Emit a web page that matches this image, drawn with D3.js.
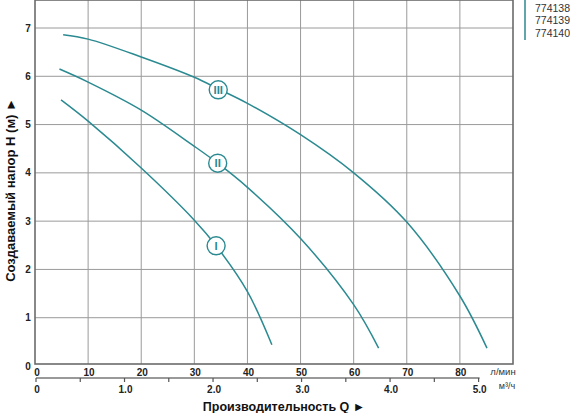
<!DOCTYPE html>
<html>
<head>
<meta charset="utf-8">
<script src="https://cdn.jsdelivr.net/npm/d3@7"></script>
<style>
  body { margin: 0; background: #fff; }
  svg { display: block; font-family: "Liberation Sans", Arial, sans-serif; }
</style>
</head>
<body>
<svg width="570" height="413"></svg>
<script>
// data: flow Q (l/min) vs head H (m)
var curveI   = [[4.9,5.51],[10,5.07],[20,4.1],[30,3.02],[34.1,2.49],[40,1.54],[44.6,0.44]]
var curveII  = [[4.6,6.15],[10,5.88],[20,5.3],[30,4.55],[34.4,4.2],[40,3.7],[50,2.64],[60,1.27],[64.7,0.37]]
var curveIII = [[5.3,6.86],[10,6.77],[20,6.4],[30,5.98],[34.5,5.74],[40,5.44],[50,4.79],[60,4.0],[70,2.98],[80,1.45],[85.1,0.37]]
var curveNames = ['I', 'II', 'III']
var labelPos = [[34.1,2.49],[34.4,4.2],[34.5,5.72]]
var models = ['774138', '774139', '774140']
var lminTicks = [0,10,20,30,40,50,60,70,80]
var m3Ticks = [0,0.5,1,1.5,2,2.5,3,3.5,4,4.5,5]
var hTicks = [0,1,2,3,4,5,6,7]

var teal = '#2b8a91'
var svg = d3.select('svg')

//scales: plot box is roughly 35..514 by 0..365
var x = d3.scaleLinear().domain([0, 90]).range([35, 513])
var y = d3.scaleLinear().domain([0, 7]).range([366, 28])

// grid
svg.append('g').selectAll('line').data(lminTicks.slice(1))
    .enter().append('line')
    .attr('x1', d => x(d)).attr('x2', d => x(d))
    .attr('y1', 0).attr('y2', 364)
    .attr('stroke', '#9a9a9a').attr('stroke-width', 1)
svg.append('g').selectAll('line').data(hTicks.slice(1))
    .enter().append('line')
    .attr('x1', 35).attr('x2', 513)
    .attr('y1', d => y(d)).attr('y2', d => y(d))
    .attr('stroke', '#9a9a9a').attr('stroke-width', 1)

// frame
svg.append('rect')
    .attr('x', 35).attr('y', 0)
    .attr('width', 478).attr('height', 364)
    .attr('fill', 'none').attr('stroke', '#6b6b6b').attr('stroke-width', 1.6)

// curves
var line = d3.line().x(d => x(d[0])).y(d => y(d[1])).curve(d3.curveCatmullRom.alpha(0.5))
svg.append('g').selectAll('path').data([curveI, curveII, curveIII])
    .enter().append('path')
    .attr('d', line)
    .attr('fill', 'none').attr('stroke', teal).attr('stroke-width', 1.5)

// roman numeral badges
var badges = svg.append('g').selectAll('g').data(curveNames)
    .enter().append('g')
    .attr('transform', (d, i) => `translate(${x(labelPos[i][0])},${y(labelPos[i][1])})`)
badges.append('circle').attr('r', 9)
    .attr('fill', '#fff').attr('stroke', teal).attr('stroke-width', 1.4)
badges.append('text')
    .attr('text-anchor', 'middle').attr('dy', '0.36em')
    .style('font-size', '11.5px').style('font-weight', 'bold')
    .attr('fill', teal)
    .text(d => d)

// y tick labels
svg.append('g').selectAll('text').data(hTicks)
    .enter().append('text')
    .attr('x', 28).attr('y', d => y(d))
    .attr('dy', '0.35em').attr('text-anchor', 'middle')
    .style('font-size', '10px').style('font-weight', 'bold').attr('fill', '#222')
    .text(d => d)

// l/min labels
svg.append('g').selectAll('text').data(lminTicks)
    .enter().append('text')
    .attr('x', d => d == 0 ? x(d) + 2 : x(d) + 1).attr('y', 372)
    .attr('dy', '0.35em').attr('text-anchor', 'middle')
    .style('font-size', '10px').style('font-weight', 'bold').attr('fill', '#222')
    .text(d => d)
svg.append('text').attr('x', 503).attr('y', 372).attr('dy', '0.35em')
    .attr('text-anchor', 'middle').style('font-size', '9.5px').attr('fill', '#333')
    .text('л/мин')

// m3/h axis
var xm = d3.scaleLinear().domain([0, 5]).range([x(0), x(5 * 1000 / 60)])
svg.append('line').attr('x1', x(0) + 1).attr('x2', xm(5) + 2)
    .attr('y1', 378).attr('y2', 378)
    .attr('stroke', '#777').attr('stroke-width', 1.4)
svg.append('g').selectAll('line').data(m3Ticks)
    .enter().append('line')
    .attr('x1', d => xm(d) + 1).attr('x2', d => xm(d) + 1)
    .attr('y1', 378).attr('y2', 382)
    .attr('stroke', '#555').attr('stroke-width', 1.2)
svg.append('g').selectAll('text').data(m3Ticks.filter(d => d % 1 == 0))
    .enter().append('text')
    .attr('x', d => xm(d) + 2).attr('y', 389)
    .attr('dy', '0.35em').attr('text-anchor', 'middle')
    .style('font-size', '10px').style('font-weight', 'bold').attr('fill', '#222')
    .text(d => d == 0 ? '0' : d3.format('.1f')(d))
svg.append('text').attr('x', 507).attr('y', 386).attr('dy', '0.35em')
    .attr('text-anchor', 'middle').style('font-size', '9px').attr('fill', '#333')
    .text('м³/ч')

// axis titles
svg.append('text').attr('x', 284).attr('y', 407).attr('dy', '0.35em')
    .attr('text-anchor', 'middle')
    .style('font-size', '12.5px').style('font-weight', 'bold').attr('fill', '#111')
    .text('Производительность Q ►')
svg.append('text')
    .attr('transform', 'translate(10,190) rotate(-90)')
    .attr('dy', '0.35em').attr('text-anchor', 'middle')
    .style('font-size', '13px').style('font-weight', 'bold').attr('fill', '#111')
    .text('Создаваемый напор H (м) ►')

// model legend
svg.append('line').attr('x1', 525).attr('x2', 525).attr('y1', 0).attr('y2', 40)
    .attr('stroke', teal).attr('stroke-width', 1.5)
svg.append('g').selectAll('text').data(models)
    .enter().append('text')
    .attr('x', 535).attr('y', (d, i) => 8 + i * 12.5)
    .attr('dy', '0.35em')
    .style('font-size', '10.5px').attr('fill', '#333')
    .text(d => d)
</script>
</body>
</html>
